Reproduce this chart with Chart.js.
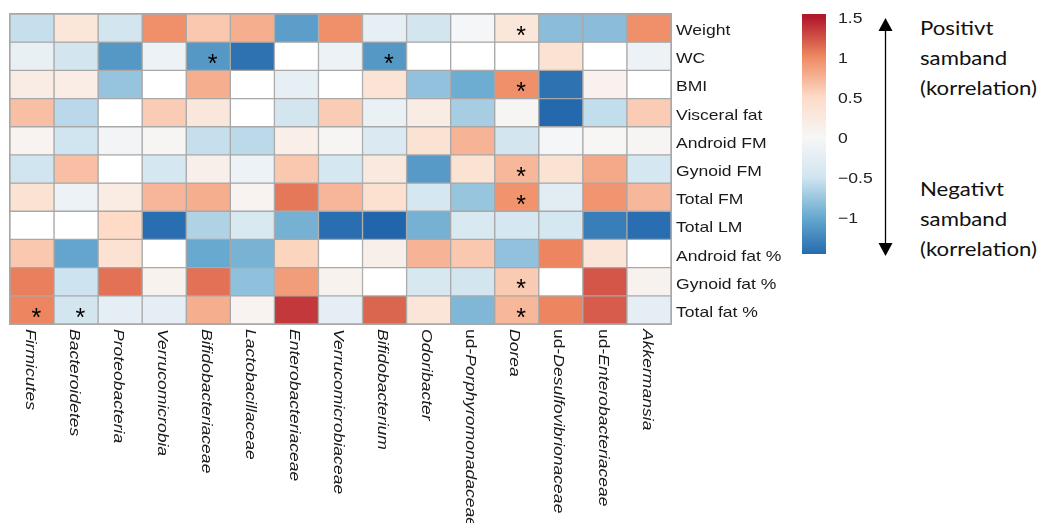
<!DOCTYPE html>
<html>
<head>
<meta charset="utf-8">
<script src="https://cdn.jsdelivr.net/npm/chart.js@4.4.1/dist/chart.umd.min.js"></script>
<style>
  html, body { margin: 0; padding: 0; background: #fff; }
  #wrap { position: relative; width: 1042px; height: 523px; overflow: hidden; background: #fff; }
  #heat { position: absolute; left: 0; top: 0; }
  #scale { position: absolute; left: 790px; top: 0; }
  .note {
    position: absolute; left: 920px;
    font-family: Lato, "Open Sans", sans-serif; font-size: 18.5px; color: #111;
    line-height: 30px; white-space: nowrap;
    transform: scaleX(1.2); transform-origin: 0 0;
  }
</style>
</head>
<body>
<div id="wrap">
  <canvas id="heat" width="800" height="523"></canvas>
  <canvas id="scale" width="120" height="270"></canvas>
  <div class="note" style="top:13px">Positivt<br>samband<br>(korrelation)</div>
  <div class="note" style="top:174px">Negativt<br>samband<br>(korrelation)</div>
</div>
<script>
// Bacterial taxa (columns) and body-composition measures (rows)
const taxa = ['Firmicutes', 'Bacteroidetes', 'Proteobacteria', 'Verrucomicrobia', 'Bifidobacteriaceae',
  'Lactobacillaceae', 'Enterobacteriaceae', 'Verrucomicrobiaceae', 'Bifidobacterium', 'Odoribacter',
  'ud-Porphyromonadaceae', 'Dorea', 'ud-Desulfovibrionaceae', 'ud-Enterobacteriaceae', 'Akkermansia'];
const measures = ['Weight', 'WC', 'BMI', 'Visceral fat', 'Android FM', 'Gynoid FM', 'Total FM',
  'Total LM', 'Android fat %', 'Gynoid fat %', 'Total fat %'];

// Correlation per measure, one value per taxon (null = not reported, drawn white)
const weight       = [-0.55, 0.30, -0.48, 0.96, 0.62, 0.78, -1.08, 0.96, -0.22, -0.48, -0.03, 0.30, -0.83, -0.83, 0.96];
const wc           = [-0.20, -0.48, -1.13, -0.14, -1.13, -1.41, null, -0.14, -1.13, null, null, null, 0.36, null, -0.14];
const bmi          = [0.20, 0.18, -0.78, null, 0.78, null, -0.22, null, 0.34, -0.80, -0.97, 0.96, -1.41, 0.10, null];
const visceralFat  = [0.67, -0.61, null, 0.59, 0.29, null, -0.48, 0.59, -0.17, 0.20, -0.70, 0.04, -1.48, -0.57, 0.59];
const androidFM    = [0.07, -0.50, -0.07, 0.04, -0.55, -0.60, 0.16, 0.04, -0.37, 0.36, 0.75, -0.48, -0.02, 0.02, 0.04];
const gynoidFM     = [-0.50, 0.67, null, -0.45, 0.14, -0.14, 0.62, -0.45, 0.25, -1.11, 0.36, 0.72, 0.36, 0.81, -0.45];
const totalFM      = [0.36, -0.14, 0.21, 0.73, 0.78, 0.07, 1.08, 0.73, 0.41, -0.45, -0.77, 0.94, -0.29, 0.93, 0.72];
const totalLM      = [null, null, 0.50, -1.44, -0.66, -0.40, -0.93, -1.44, -1.50, -0.93, -0.40, -0.45, -0.45, -1.32, -1.44];
const androidFatPc = [0.62, -1.03, 0.38, null, -1.00, -0.92, 0.54, null, 0.14, 0.75, 0.62, -0.80, 1.02, 0.32, null];
const gynoidFatPc  = [1.05, -0.52, 1.11, 0.09, 1.11, -0.81, 0.88, 0.09, null, -0.42, -0.48, 0.60, null, 1.23, 0.09];
const totalFatPc   = [1.02, -0.48, -0.24, -0.24, 0.78, 0.07, 1.36, -0.24, 1.16, 0.32, -0.88, 0.72, 1.02, 1.20, -0.24];

// Significant cells: [measure index, taxon index]
const significant = [[0, 11], [1, 4], [1, 8], [2, 11], [5, 11], [6, 11], [9, 11], [10, 0], [10, 1], [10, 11]];

// Colour bar range and tick labels
const colourMin = -1.46;
const colourMax = 1.54;
const colourTicks = [-1, -0.5, 0, 0.5, 1, 1.5];

const rows = [weight, wc, bmi, visceralFat, androidFM, gynoidFM, totalFM, totalLM, androidFatPc, gynoidFatPc, totalFatPc];

// Diverging red-blue palette spanning -1.5 .. 1.5
const palette = ['#2166ac', '#67a9cf', '#d1e5f0', '#f7f7f7', '#fddbc7', '#ef8a62', '#b2182b'];
const palLo = -1.5, palHi = 1.5;

function hexRgb(h) { return [1, 3, 5].map(i => parseInt(h.substr(i, 2), 16)); }
function colourFor(v) {
  if (v === null || v === undefined) return '#ffffff';
  let t = (v - palLo) / (palHi - palLo) * (palette.length - 1);
  t = Math.max(0, Math.min(palette.length - 1, t));
  const i = Math.min(palette.length - 2, Math.floor(t));
  const f = t - i;
  const a = hexRgb(palette[i]), b = hexRgb(palette[i + 1]);
  const c = a.map((x, k) => Math.round(x + (b[k] - x) * f));
  return `rgb(${c[0]},${c[1]},${c[2]})`;
}

const FONT = '"Liberation Sans", Arial, sans-serif';
const TEXT_SIZE = '15px ';
const TEXT_SCALE = 1.17;
const TEXT_COLOUR = '#1a1a1a';

// Row labels, rotated taxon labels, asterisks and the outer frame
const heatDecor = {
  id: 'heatDecor',
  afterDatasetsDraw(chart) {
    const { ctx, chartArea: a } = chart;
    ctx.save();
    ctx.strokeStyle = '#a8a8a8';
    ctx.lineWidth = 1;
    ctx.strokeRect(a.left - 0.5, a.top - 0.5, a.right - a.left + 1, a.bottom - a.top + 1);
    ctx.restore();
  },
  afterDraw(chart) {
    const { ctx, chartArea: a } = chart;
    const xs = chart.scales.x, ys = chart.scales.y;
    ctx.save();
    ctx.fillStyle = TEXT_COLOUR;
    ctx.textBaseline = 'alphabetic';
    ctx.textAlign = 'left';

    // measure names on the right
    ctx.font = TEXT_SIZE + FONT;
    measures.forEach((m, r) => {
      const y = ys.getPixelForValue(r + 0.5) + 7;
      ctx.save();
      ctx.translate(a.right + 5, y);
      ctx.scale(TEXT_SCALE, 1);
      ctx.fillText(m, 0, 0);
      ctx.restore();
    });

    // taxon names, reading downwards
    taxa.forEach((name, c) => {
      const parts = name.startsWith('ud-')
        ? [['ud-', ''], [name.slice(3), 'italic ']]
        : [[name, 'italic ']];
      const xc = xs.getPixelForValue(c);
      ctx.save();
      ctx.translate(xc - 1, a.bottom + 5);
      ctx.rotate(Math.PI / 2);
      ctx.scale(TEXT_SCALE, 1);
      let cursor = 0;
      parts.forEach(([txt, style]) => {
        ctx.font = style + TEXT_SIZE + FONT;
        ctx.fillText(txt, cursor, 5.4);
        cursor += ctx.measureText(txt).width;
      });
      ctx.restore();
    });

    // significance markers
    ctx.font = '25px ' + FONT;
    ctx.fillStyle = '#000';
    const m = ctx.measureText('*');
    significant.forEach(([r, c]) => {
      const cx = xs.getPixelForValue(c) + 4.5;
      const cy = ys.getPixelForValue(r + 0.5) + 2.7;
      const bx = cx - (m.actualBoundingBoxRight - m.actualBoundingBoxLeft) / 2;
      const by = cy - (m.actualBoundingBoxDescent - m.actualBoundingBoxAscent) / 2;
      ctx.fillText('*', bx, by);
    });
    ctx.restore();
  }
};

new Chart(document.getElementById('heat'), {
  type: 'bar',
  data: {
    labels: taxa,
    datasets: rows.map((vals, r) => ({
      label: measures[r],
      data: taxa.map(() => 1),
      backgroundColor: vals.map(colourFor),
      borderColor: '#a8a8a8',
      borderWidth: 1,
      borderSkipped: false,
      barPercentage: 1,
      categoryPercentage: 1,
      stack: 'cells'
    }))
  },
  options: {
    responsive: false,
    animation: false,
    devicePixelRatio: 1,
    events: [],
    layout: { padding: { left: 10, top: 14, right: 129, bottom: 199 } },
    plugins: { legend: { display: false }, tooltip: { enabled: false } },
    scales: {
      x: { type: 'category', display: false, stacked: true, offset: true },
      y: { type: 'linear', display: false, stacked: true, min: 0, max: measures.length, reverse: true }
    }
  },
  plugins: [heatDecor]
});

// Colour key with tick labels and the direction arrow
const keyDecor = {
  id: 'keyDecor',
  afterDraw(chart) {
    const { ctx, chartArea: a } = chart;
    const ys = chart.scales.y;
    ctx.save();
    ctx.fillStyle = '#222';
    ctx.font = TEXT_SIZE + FONT;
    ctx.textBaseline = 'alphabetic';
    ys.ticks.forEach(t => {
      const v = t.value;
      const label = v < 0 ? '\u2212' + Math.abs(v) : String(v);
      ctx.save();
      ctx.translate(a.right + 12, ys.getPixelForValue(v) + 5.3);
      ctx.scale(TEXT_SCALE, 1);
      ctx.fillText(label, 0, 0);
      ctx.restore();
    });

    // double-headed arrow
    const ax = 95.5, top = 18, bottom = 256, head = 13, hw = 7;
    ctx.strokeStyle = '#000';
    ctx.fillStyle = '#000';
    ctx.lineWidth = 1.3;
    ctx.beginPath();
    ctx.moveTo(ax, top + head - 1);
    ctx.lineTo(ax, bottom - head + 1);
    ctx.stroke();
    ctx.beginPath();
    ctx.moveTo(ax, top); ctx.lineTo(ax - hw, top + head); ctx.lineTo(ax + hw, top + head); ctx.closePath();
    ctx.fill();
    ctx.beginPath();
    ctx.moveTo(ax, bottom); ctx.lineTo(ax - hw, bottom - head); ctx.lineTo(ax + hw, bottom - head); ctx.closePath();
    ctx.fill();
    ctx.restore();
  }
};

new Chart(document.getElementById('scale'), {
  type: 'bar',
  data: {
    labels: [''],
    datasets: [{
      data: [[colourMin, colourMax]],
      borderWidth: 0,
      barPercentage: 1,
      categoryPercentage: 1,
      backgroundColor(context) {
        const chart = context.chart;
        if (!chart.chartArea) return palette[3];
        const ys = chart.scales.y;
        const g = chart.ctx.createLinearGradient(0, ys.getPixelForValue(palLo), 0, ys.getPixelForValue(palHi));
        palette.forEach((col, i) => g.addColorStop(i / (palette.length - 1), col));
        return g;
      }
    }]
  },
  options: {
    responsive: false,
    animation: false,
    devicePixelRatio: 1,
    events: [],
    layout: { padding: { left: 12, top: 14, right: 0, bottom: 16 } },
    plugins: { legend: { display: false }, tooltip: { enabled: false } },
    scales: {
      x: { display: false },
      y: {
        position: 'right',
        min: colourMin,
        max: colourMax,
        grid: { display: false, drawTicks: false },
        border: { display: false },
        ticks: { display: false },
        afterBuildTicks(scale) { scale.ticks = colourTicks.map(v => ({ value: v })); },
        afterFit(scale) { scale.width = 84; }
      }
    }
  },
  plugins: [keyDecor]
});
</script>
</body>
</html>
